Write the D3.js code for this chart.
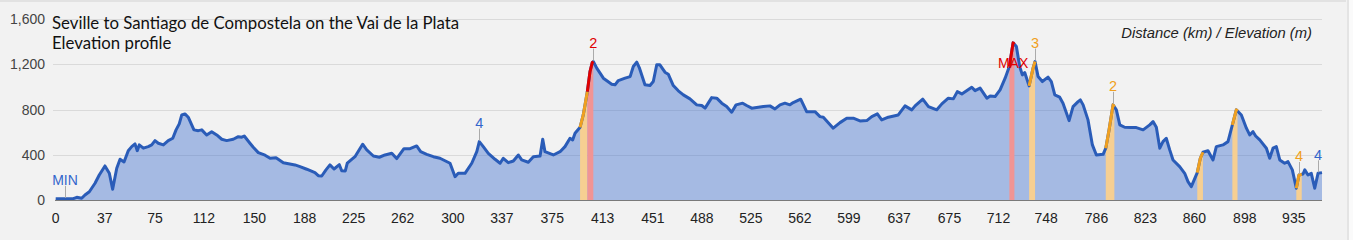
<!DOCTYPE html>
<html>
<head>
<meta charset="utf-8">
<script src="https://d3js.org/d3.v7.min.js"></script>
<style>
  body { margin: 0; background: #f2f2f2; overflow: hidden; }
  svg { display: block; font-family: "Liberation Sans", Arial, sans-serif; }
</style>
</head>
<body>
<svg id="chart" width="1353" height="240"></svg>
<script>
// profile
const distKm = [0, 7.0, 13.3, 15.9, 19.6, 22.1, 25.4, 29.7, 32.9, 37.2,
  40.5, 43.0, 46.1, 48.6, 51.6, 54.8, 57.4, 59.9, 61.6, 63.1,
  66.2, 69.9, 72.5, 75.0, 77.5, 81.3, 85.0, 88.4, 90.9, 93.3,
  95.2, 97.6, 100.1, 104.4, 107.7, 110.3, 114.0, 117.8, 121.6, 125.4,
  129.1, 134.1, 137.9, 140.5, 142.4, 146.7, 149.2, 153.0, 158.1, 161.9,
  166.4, 171.9, 180.7, 184.5, 189.6, 195.8, 198.3, 200.9, 204.1, 207.1,
  210.2, 214.2, 216.0, 218.7, 220.2, 226.0, 231.8, 234.9, 239.9, 244.4,
  248.7, 253.8, 257.5, 263.0, 267.6, 272.6, 275.6, 280.2, 285.2, 290.2,
  297.8, 301.6, 304.0, 309.1, 314.2, 318.0, 319.9, 322.9, 326.7, 331.8,
  335.6, 338.0, 341.8, 345.6, 349.4, 351.9, 356.9, 360.7, 365.8, 367.8,
  369.5, 375.8, 380.9, 384.6, 388.4, 390.4, 392.2, 396.0, 398.4, 401.5,
  403.5, 405.2, 406.0, 408.6, 413.6, 419.9, 422.4, 424.9, 430.0, 433.8,
  436.2, 438.8, 440.7, 445.0, 448.8, 451.3, 453.9, 456.3, 460.1, 462.6,
  466.4, 470.2, 474.0, 479.0, 484.1, 487.9, 490.4, 495.4, 499.2, 503.0,
  506.7, 510.5, 513.8, 518.8, 521.8, 525.6, 534.4, 539.4, 543.2, 547.0,
  550.7, 554.5, 557.0, 562.6, 567.1, 573.4, 577.2, 579.7, 587.2, 592.3,
  597.4, 602.3, 607.4, 612.5, 616.3, 620.5, 623.8, 628.8, 636.3, 641.4,
  646.5, 649.0, 654.8, 659.1, 665.4, 669.2, 674.1, 677.9, 680.9, 684.3,
  691.8, 694.3, 698.1, 703.2, 705.7, 709.4, 713.2, 717.0, 720.2, 723.0,
  725.5, 728.0, 730.0, 731.8, 735.1, 738.1, 739.6, 741.9, 745.1, 749.4,
  751.9, 754.5, 758.2, 760.7, 765.3, 768.3, 772.1, 773.8, 775.9, 779.6,
  782.9, 785.9, 791.0, 793.0, 795.5, 798.5, 801.0, 803.6, 807.3, 812.3,
  816.1, 821.2, 826.2, 828.7, 831.2, 833.8, 836.2, 838.7, 841.3, 843.8,
  848.8, 852.6, 855.1, 857.6, 862.1, 864.4, 866.4, 870.2, 874.0, 876.5,
  881.5, 885.3, 888.6, 891.6, 895.4, 899.2, 901.7, 904.2, 906.2, 909.3,
  914.3, 916.8, 919.3, 921.8, 924.4, 928.1, 930.6, 933.9, 936.9, 938.9,
  942.0, 943.3, 945.7, 948.2, 950.8, 953.3, 956.3];

const elevM = [10, 10, 12, 24, 15, 44, 73, 148, 221, 301,
  236, 95, 281, 360, 336, 436, 472, 496, 436, 487,
  458, 472, 487, 525, 502, 487, 525, 546, 620, 673,
  752, 761, 732, 620, 613, 620, 575, 604, 575, 537,
  525, 537, 560, 555, 566, 502, 466, 419, 396, 369,
  374, 330, 310, 295, 272, 242, 215, 212, 266, 310,
  274, 312, 259, 257, 325, 383, 493, 443, 389, 378,
  398, 413, 366, 454, 454, 478, 427, 404, 383, 369,
  325, 206, 236, 236, 325, 427, 516, 472, 413, 360,
  325, 369, 330, 345, 398, 354, 334, 383, 389, 537,
  427, 398, 427, 472, 546, 531, 590, 643, 752, 958,
  1135, 1215, 1224, 1166, 1077, 1024, 1018, 1056, 1077, 1091,
  1180, 1219, 1171, 1018, 1012, 1047, 1195, 1195, 1130, 1112,
  1012, 965, 929, 894, 841, 835, 812, 905, 900, 856,
  826, 776, 841, 856, 835, 812, 826, 832, 805, 841,
  856, 841, 861, 891, 781, 781, 737, 732, 635, 684,
  723, 723, 699, 702, 737, 761, 708, 732, 752, 832,
  797, 832, 891, 826, 797, 850, 900, 894, 958, 938,
  997, 967, 989, 900, 920, 914, 974, 1077, 1180, 1389,
  1357, 1180, 1106, 1127, 1009, 1166, 1224, 1091, 1047, 1086,
  1047, 929, 909, 856, 702, 826, 870, 885, 841, 708,
  487, 398, 404, 458, 620, 841, 797, 664, 643, 640,
  640, 620, 664, 693, 643, 458, 516, 546, 443, 354,
  295, 236, 162, 118, 242, 369, 422, 436, 354, 472,
  487, 516, 664, 797, 752, 635, 575, 604, 566, 531,
  458, 369, 458, 472, 354, 325, 339, 266, 104, 221,
  230, 266, 221, 236, 104, 236, 242];

const xTickLabels = ["0", "37", "75", "112", "150", "188", "225", "262", "300", "337",
  "375", "413", "451", "488", "525", "562", "599", "637", "675", "712",
  "748", "786", "823", "860", "898", "935"];
const yTicks = [0, 400, 800, 1200, 1600];

// steep sections
const climbFrom = [396.0, 401.5, 720.2, 735.1, 793.0, 862.1, 888.6, 936.9];
const climbTo = [401.5, 406.0, 724.0, 739.6, 799.5, 866.4, 892.5, 941.0];
const climbGrade = ["hard", "severe", "severe", "hard", "hard", "hard", "hard", "hard"];

// labelled points
const markKm = [7.0, 319.9, 406.0, 723.0, 739.6, 798.5, 938.9, 953.3];
const markText = ["MIN", "4", "2", "MAX", "3", "2", "4", "4"];
const markGrade = ["easy", "easy", "severe", "severe", "hard", "hard", "hard", "easy"];

const lineColor = { easy: "#3366cc", hard: "#f0a020", severe: "#e00000" };
const bandColor = { hard: "#f6cf92", severe: "#f19494" };

const profile = d3.zip(distKm, elevM).map(d => ({ km: d[0], elev: d[1] }));

const svg = d3.select("#chart");
const x = d3.scaleLinear().domain([0, 956.3]).range([55.7, 1322]);
const y = d3.scaleLinear().domain([0, 1600]).range([200, 19]);

function elevAt(km) {
  const i = d3.bisector(d => d.km).left(profile, km);
  if (i <= 0) return profile[0].elev;
  if (i >= profile.length) return profile[profile.length - 1].elev;
  const a = profile[i - 1], b = profile[i];
  return a.elev + (b.elev - a.elev) * (km - a.km) / (b.km - a.km);
}

function slice(from, to) {
  const pts = profile.filter(d => d.km > from && d.km < to);
  return [{ km: from, elev: elevAt(from) }, ...pts, { km: to, elev: elevAt(to) }];
}

// frame
svg.append("rect").attr("width", 1353).attr("height", 240).attr("fill", "#f2f2f2");
svg.append("rect").attr("width", 1346).attr("height", 2).attr("fill", "#e2e2e2");
svg.append("rect").attr("x", 1347).attr("width", 6).attr("height", 240).attr("fill", "#e4e4e4");
svg.append("rect").attr("x", 1349).attr("width", 4).attr("height", 240).attr("fill", "#fafafa");

// grid
svg.append("g")
  .selectAll("line")
  .data(yTicks.slice(1))
  .join("line")
  .attr("x1", 53).attr("x2", 1322)
  .attr("y1", d => Math.round(y(d)) + 0.5).attr("y2", d => Math.round(y(d)) + 0.5)
  .attr("stroke", "#dadada");

const area = d3.area().x(d => x(d.km)).y0(y(0)).y1(d => y(d.elev));
const line = d3.line().x(d => x(d.km)).y(d => y(d.elev));

svg.append("path")
  .datum(profile)
  .attr("d", area)
  .attr("fill", "#3366cc")
  .attr("fill-opacity", 0.4);

climbFrom.forEach((f, i) => {
  svg.append("path")
    .datum(slice(f, climbTo[i]))
    .attr("d", area)
    .attr("fill", bandColor[climbGrade[i]]);
});

svg.append("path")
  .datum(profile)
  .attr("d", line)
  .attr("fill", "none")
  .attr("stroke", "#2a5cb8")
  .attr("stroke-width", 3)
  .attr("stroke-linejoin", "round");

climbFrom.forEach((f, i) => {
  svg.append("path")
    .datum(slice(f, climbTo[i]))
    .attr("d", line)
    .attr("fill", "none")
    .attr("stroke", lineColor[climbGrade[i]])
    .attr("stroke-width", 3)
    .attr("stroke-linejoin", "round");
});

// baseline
svg.append("line")
  .attr("x1", 55).attr("x2", 1322)
  .attr("y1", y(0) + 0.5).attr("y2", y(0) + 0.5)
  .attr("stroke", "#7a7a7a");

// axis labels
svg.append("g")
  .selectAll("text")
  .data(yTicks)
  .join("text")
  .attr("x", 45)
  .attr("y", d => y(d))
  .attr("dy", "0.36em")
  .attr("text-anchor", "end")
  .attr("font-size", 14)
  .attr("fill", "#444")
  .text(d => d3.format(",")(d));

svg.append("g")
  .selectAll("text")
  .data(xTickLabels)
  .join("text")
  .attr("x", d => x(+d))
  .attr("y", 223)
  .attr("text-anchor", "middle")
  .attr("font-size", 14)
  .attr("fill", "#222")
  .text(d => d);

// markers
markKm.forEach((km, i) => {
  const px = x(km), py = y(elevAt(km));
  const below = markText[i] === "MAX";
  if (!below) {
    svg.append("line")
      .attr("x1", Math.round(px) + 0.5).attr("x2", Math.round(px) + 0.5)
      .attr("y1", py - 13).attr("y2", py - 1)
      .attr("stroke", "#aaa");
  }
  svg.append("text")
    .attr("x", px)
    .attr("y", below ? py + 20 : py - 19)
    .attr("dy", "0.36em")
    .attr("text-anchor", "middle")
    .attr("font-size", markText[i].length > 1 ? 14 : 14.5)
    .attr("fill", lineColor[markGrade[i]])
    .text(markText[i]);
});

// titles
svg.append("text")
  .attr("x", 52).attr("y", 29)
  .attr("font-family", "Lato, 'Open Sans', sans-serif")
  .attr("font-size", 16.8)
  .attr("fill", "#111")
  .text("Seville to Santiago de Compostela on the Vai de la Plata");
svg.append("text")
  .attr("x", 52).attr("y", 49)
  .attr("font-family", "Lato, 'Open Sans', sans-serif")
  .attr("font-size", 16.8)
  .attr("fill", "#111")
  .text("Elevation profile");

svg.append("text")
  .attr("x", 1312).attr("y", 38)
  .attr("text-anchor", "end")
  .attr("font-style", "italic")
  .attr("font-size", 14.8)
  .attr("fill", "#222")
  .text("Distance (km) / Elevation (m)");
</script>
</body>
</html>
